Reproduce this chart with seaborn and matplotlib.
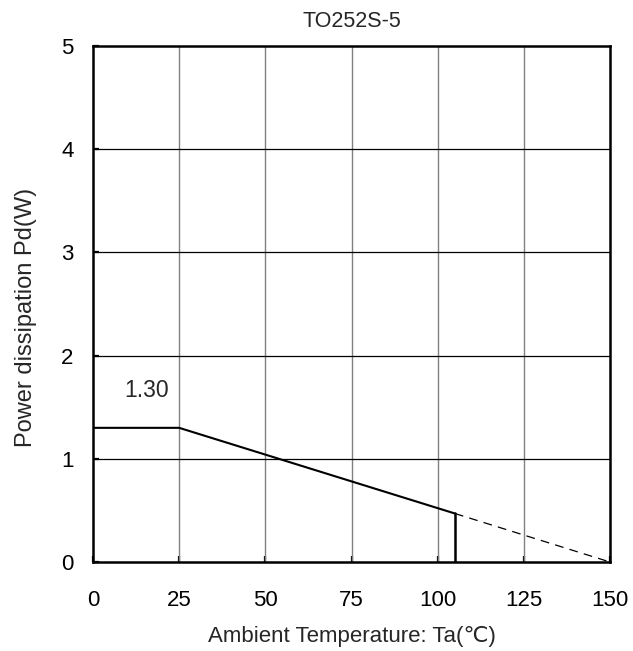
import matplotlib
matplotlib.use("Agg")
import matplotlib.pyplot as plt
import seaborn as sns

temp_solid = [0, 25, 105]
pd_solid = [1.30, 1.30, 0.47]
temp_dash = [105, 150]
pd_dash = [0.47, 0.0]
temp_cut = [105, 105]
pd_cut = [0.0, 0.47]
xticks = [0, 25, 50, 75, 100, 125, 150]
yticks = [0, 1, 2, 3, 4, 5]

sns.set_theme(style="white")
plt.rcParams['font.family'] = ['Liberation Sans', 'DejaVu Sans']

fig = plt.figure(figsize=(6.33, 6.51), dpi=100)
ax = fig.add_axes([93/633, 1 - 562/651, 517/633, 516/651])

for xv in xticks[1:-1]:
    ax.axvline(xv, color="#808080", lw=1.0, zorder=1)
for yv in yticks[1:-1]:
    ax.axhline(yv, color="black", lw=0.9, zorder=1)

sns.lineplot(x=temp_solid, y=pd_solid, ax=ax, color="black", lw=1.5, zorder=3,
             estimator=None, sort=False)
sns.lineplot(x=temp_dash, y=pd_dash, ax=ax, color="black", lw=0.9, zorder=3,
             linestyle=(0, (7, 5)), estimator=None, sort=False)
sns.lineplot(x=temp_cut, y=pd_cut, ax=ax, color="black", lw=1.8, zorder=3,
             estimator=None, sort=False)

ax.set_xlim(0, 150)
ax.set_ylim(0, 5)
ax.set_xticks(xticks)
ax.set_yticks(yticks)
ax.tick_params(direction="in", length=4, width=1.6, colors="black",
               labelsize=16, bottom=True, left=True)
ax.tick_params(axis="x", pad=20)
ax.tick_params(axis="y", pad=14)
for s in ax.spines.values():
    s.set_color("black")
    s.set_linewidth(1.8)

ax.text(15.4, 1.66, "1.30", fontsize=16.5, ha="center", va="center")
ax.set_title("TO252S-5", fontsize=15.5, pad=14)
ax.set_xlabel("Ambient Temperature: Ta(℃)", fontsize=16, labelpad=11)
ax.set_ylabel("Power dissipation Pd(W)", fontsize=17)
ax.yaxis.set_label_coords(-0.108, 0.473)

fig.savefig("out.png", dpi=100)
